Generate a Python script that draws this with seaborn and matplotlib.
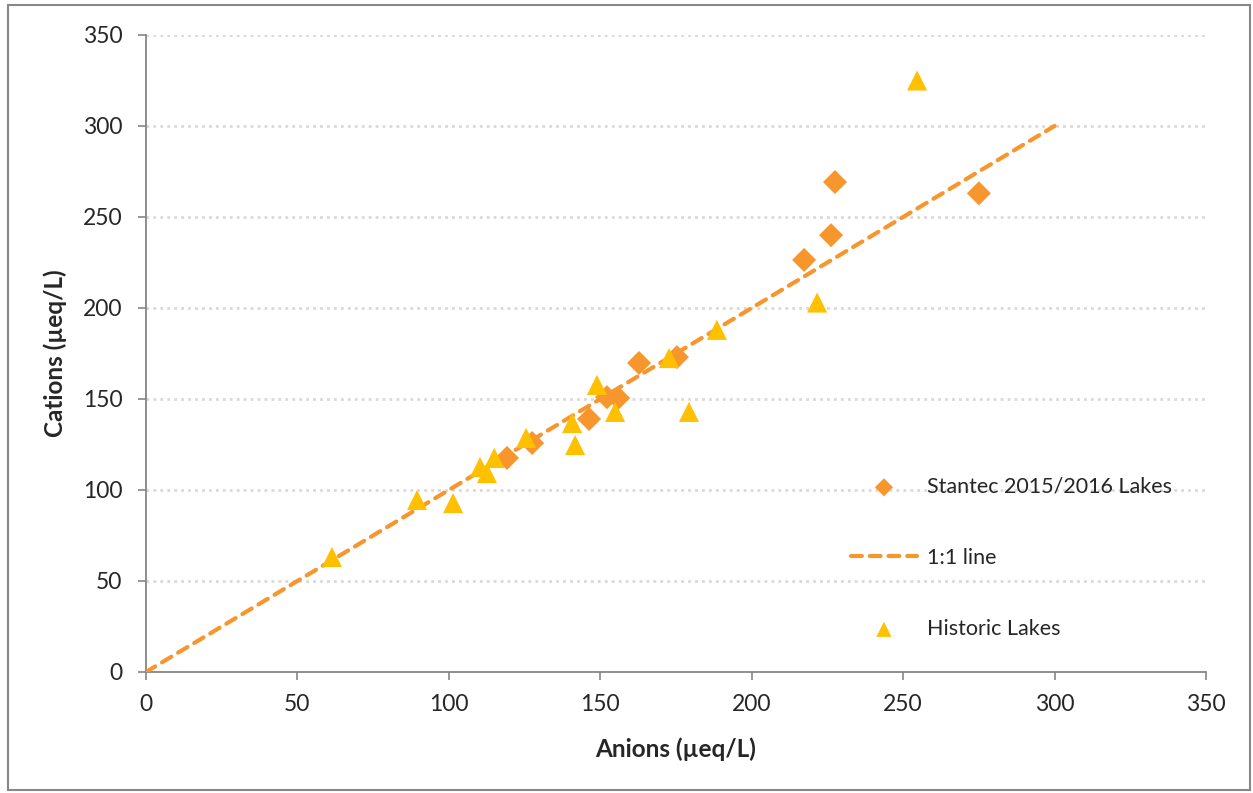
import matplotlib
matplotlib.use("Agg")
import matplotlib.pyplot as plt
import seaborn as sns
import pandas as pd
from matplotlib.patches import Rectangle

# Stantec 2015/2016 lakes
stantec_anions = [119.2, 127.5, 146.3, 152.2, 155.9, 162.8, 175.3, 217.3, 226.2, 227.5, 275.0]
stantec_cations = [117.6, 125.8, 139.0, 151.0, 150.5, 169.8, 173.0, 226.4, 240.0, 269.2, 263.0]

# historic lakes
historic_anions = [61.4, 89.5, 101.4, 110.3, 112.6, 115.0, 125.5, 140.7, 141.7, 148.9,
                   154.9, 172.7, 179.3, 188.5, 221.6, 254.6]
historic_cations = [63.2, 94.5, 92.8, 112.6, 109.3, 117.6, 128.6, 136.8, 124.7, 157.7,
                    142.9, 172.5, 142.9, 188.0, 203.0, 325.0]

# 1:1 line
line_x = [0, 300]
line_y = [0, 300]

ticks = [0, 50, 100, 150, 200, 250, 300, 350]

sns.set_style("white")
plt.rcParams['font.family'] = ['Lato', 'DejaVu Sans']

orange = '#F7962D'
yellow = '#FFC000'

fig = plt.figure(figsize=(12.53, 7.93), dpi=100)
ax = fig.add_axes([0.1165, 0.1526, 0.8460, 0.8033])

df_s = pd.DataFrame({'x': stantec_anions, 'y': stantec_cations})
df_h = pd.DataFrame({'x': historic_anions, 'y': historic_cations})
df_l = pd.DataFrame({'x': line_x, 'y': line_y})

sns.scatterplot(data=df_s, x='x', y='y', ax=ax, marker='D', s=150, color=orange,
                edgecolor='none', label='Stantec 2015/2016 Lakes', zorder=3)
ax.plot(df_l['x'], df_l['y'], color=orange, lw=3, linestyle=(0, (2.6, 1.9)),
        dash_capstyle='round', label='1:1 line', zorder=4)
sns.scatterplot(data=df_h, x='x', y='y', ax=ax, marker='^', s=210, color=yellow,
                edgecolor='none', label='Historic Lakes', zorder=5)

ax.set_xlim(0, 350)
ax.set_ylim(0, 350)
ax.set_xticks(ticks)
ax.set_yticks(ticks)
ax.tick_params(axis='both', which='major', labelsize=16.5, length=6, width=1.2,
               color='#868686', direction='out', left=True, bottom=True)
ax.tick_params(axis='y', pad=11)
ax.tick_params(axis='x', pad=10)
ax.yaxis.grid(True, color='#D9D9D9', linestyle=(0, (1, 1.5)), linewidth=2)
ax.xaxis.grid(False)
for side in ['top', 'right']:
    ax.spines[side].set_visible(False)
for side in ['left', 'bottom']:
    ax.spines[side].set_color('#868686')
    ax.spines[side].set_linewidth(1.3)

ax.set_xlabel('Anions (µeq/L)', fontsize=17.5, fontweight='bold', labelpad=16)
ax.set_ylabel('Cations (µeq/L)', fontsize=17.5, fontweight='bold', labelpad=11)

leg = ax.legend(loc='center left', bbox_to_anchor=(0.665, 0.179), frameon=False,
                fontsize=15.5, handlelength=3.07, handletextpad=0.47, labelspacing=2.37,
                borderpad=0, borderaxespad=0, markerscale=0.75)

fig.patches.append(Rectangle((0.006, 0.004), 0.992, 0.99, transform=fig.transFigure,
                             fill=False, edgecolor='#888888', lw=1.5))

fig.savefig('out.png', dpi=100)
